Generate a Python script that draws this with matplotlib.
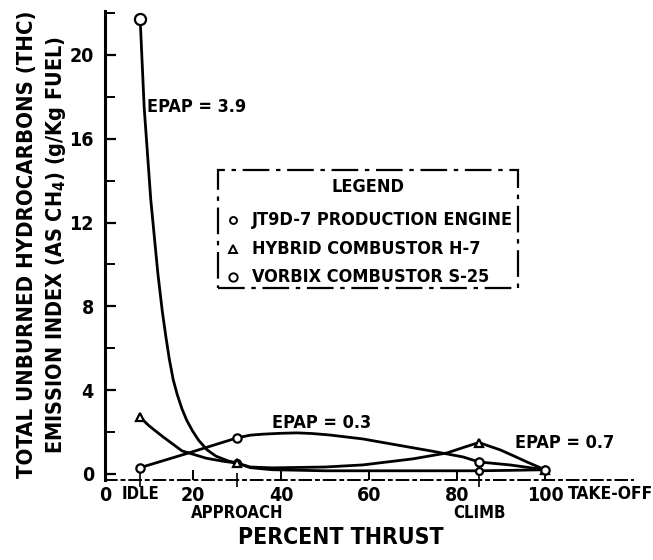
import matplotlib
matplotlib.use("Agg")
import matplotlib.pyplot as plt
from matplotlib.patches import Rectangle
from matplotlib.lines import Line2D

plt.rcParams["font.family"] = ["DejaVu Sans"]
plt.rcParams["font.stretch"] = "condensed"
plt.rcParams["font.weight"] = "bold"

# operating points (percent thrust) and measured emission index
thrust_points = [8, 30, 85, 100]
jt9d_points = [21.7, 0.52, 0.15, 0.2]
hybrid_points = [2.7, 0.52, 1.5, 0.2]
vorbix_points = [0.3, 1.72, 0.57, 0.2]

# faired curves through the points
jt9d_curve_x = [8, 8.9, 10.4, 12.0, 13.0, 13.8, 14.6, 15.5, 16.4, 17.5, 18.6,
                19.9, 21.3, 23.2, 25.2, 28, 30, 33, 38, 50, 70, 85, 92, 100]
jt9d_curve_y = [21.7, 17.5, 13.1, 9.6, 7.8, 6.6, 5.5, 4.5, 3.8, 3.1, 2.55,
                2.05, 1.6, 1.15, 0.85, 0.62, 0.52, 0.3, 0.2, 0.15, 0.15, 0.15,
                0.17, 0.2]
hybrid_curve_x = [8, 10, 13, 17.5, 23, 27, 30, 33, 38, 50, 58.6, 70, 77.7, 82,
                  85, 87, 89.8, 93, 95.9, 100]
hybrid_curve_y = [2.7, 2.3, 1.8, 1.1, 0.75, 0.6, 0.52, 0.33, 0.29, 0.33, 0.43,
                  0.72, 1.0, 1.3, 1.5, 1.35, 1.15, 0.85, 0.57, 0.2]
vorbix_curve_x = [8, 19, 30, 33, 36, 40, 43.6, 47, 51, 58.6, 66.4, 74, 81.4, 85,
                  92, 100]
vorbix_curve_y = [0.3, 1.0, 1.72, 1.85, 1.9, 1.94, 1.96, 1.93, 1.86, 1.67, 1.38,
                  1.1, 0.81, 0.57, 0.43, 0.2]

x_ticks = [0, 20, 40, 60, 80, 100]
y_ticks = [0, 4, 8, 12, 16, 20]
y_minor = [2, 6, 10, 14, 18, 22]

legend_labels = ["JT9D-7 PRODUCTION ENGINE", "HYBRID COMBUSTOR H-7",
                 "VORBIX COMBUSTOR S-25"]

W, H = 653, 560
fig = plt.figure(figsize=(W / 100, H / 100), dpi=100)
ax = fig.add_axes([105 / W, 80 / H, 528 / W, 469 / H])

line_kw = dict(color="black", lw=2.0, solid_capstyle="round",
               solid_joinstyle="round")
ax.plot(jt9d_curve_x, jt9d_curve_y, **line_kw)
ax.plot(hybrid_curve_x, hybrid_curve_y, **line_kw)
ax.plot(vorbix_curve_x, vorbix_curve_y, **line_kw)

mk_kw = dict(ls="none", mfc="white", mec="black", mew=1.6, zorder=5)
ax.plot(thrust_points[:1], jt9d_points[:1], marker="o", ms=8, **mk_kw)
ax.plot(thrust_points[1:], jt9d_points[1:], marker="o", ms=5, **mk_kw)
ax.plot(thrust_points, hybrid_points, marker="^", ms=6, **mk_kw)
ax.plot(thrust_points, vorbix_points, marker="o", ms=6, **mk_kw)

ax.set_xlim(0, 120)
ax.set_ylim(-0.29, 22.1)

for s in ["top", "right"]:
    ax.spines[s].set_visible(False)
ax.spines["left"].set_linewidth(2.2)
ax.spines["bottom"].set_linewidth(1.4)
ax.spines["bottom"].set_linestyle((0, (6, 2.5, 1.5, 2.5)))

ax.set_yticks(y_ticks)
ax.set_yticks(y_minor, minor=True)
ax.set_xticks(x_ticks)
ax.set_xticks(thrust_points, minor=True)
ax.tick_params(axis="y", which="major", direction="in", length=8, width=1.6,
               labelsize=14, pad=8)
ax.tick_params(axis="y", which="minor", direction="in", length=7, width=1.4)
ax.tick_params(axis="x", which="major", direction="in", length=7, width=1.4,
               labelsize=14, pad=4)
ax.tick_params(axis="x", which="minor", direction="inout", length=10, width=1.2)

# thrust setting names under the axis
ax.text(8, -0.95, "IDLE", ha="center", va="center", fontsize=12, clip_on=False)
ax.text(105.2, -0.95, "TAKE-OFF", ha="left", va="center", fontsize=12.5,
        clip_on=False)
ax.text(30, -1.85, "APPROACH", ha="center", va="center", fontsize=12,
        clip_on=False)
ax.text(85, -1.85, "CLIMB", ha="center", va="center", fontsize=12,
        clip_on=False)

ax.text(9.5, 17.5, "EPAP = 3.9", ha="left", va="center", fontsize=13)
ax.text(38, 2.45, "EPAP = 0.3", ha="left", va="center", fontsize=13)
ax.text(93.2, 1.5, "EPAP = 0.7", ha="left", va="center", fontsize=13)

fig.text(341 / W, 1 - 537 / H, "PERCENT THRUST", ha="center", va="center",
         fontsize=16.5)
fig.text(27 / W, 1 - 244 / H, "TOTAL UNBURNED HYDROCARBONS (THC)",
         rotation=90, ha="center", va="center", fontsize=15.8)
fig.text(56 / W, 1 - 245 / H, "EMISSION INDEX (AS CH$_4$) (g/Kg FUEL)",
         rotation=90, ha="center", va="center", fontsize=15.5)

# legend box
fig.add_artist(Rectangle((218 / W, 1 - 288 / H), 300 / W, 118 / H,
                         transform=fig.transFigure, fill=False, lw=1.6,
                         ls=(0, (12, 3, 2, 3)), color="black"))
fig.text(368 / W, 1 - 187 / H, "LEGEND", ha="center", va="center", fontsize=13)
row_y = [220, 249, 277]
row_marker = [("o", 5), ("^", 6), ("o", 6)]
for label, yy, (m, ms) in zip(legend_labels, row_y, row_marker):
    fig.add_artist(Line2D([233 / W], [1 - yy / H], transform=fig.transFigure,
                          marker=m, ms=ms, mfc="white", mec="black", mew=1.4,
                          ls="none"))
    fig.text(252 / W, 1 - yy / H, label, ha="left", va="center", fontsize=13)

fig.savefig("out.png", dpi=100)
